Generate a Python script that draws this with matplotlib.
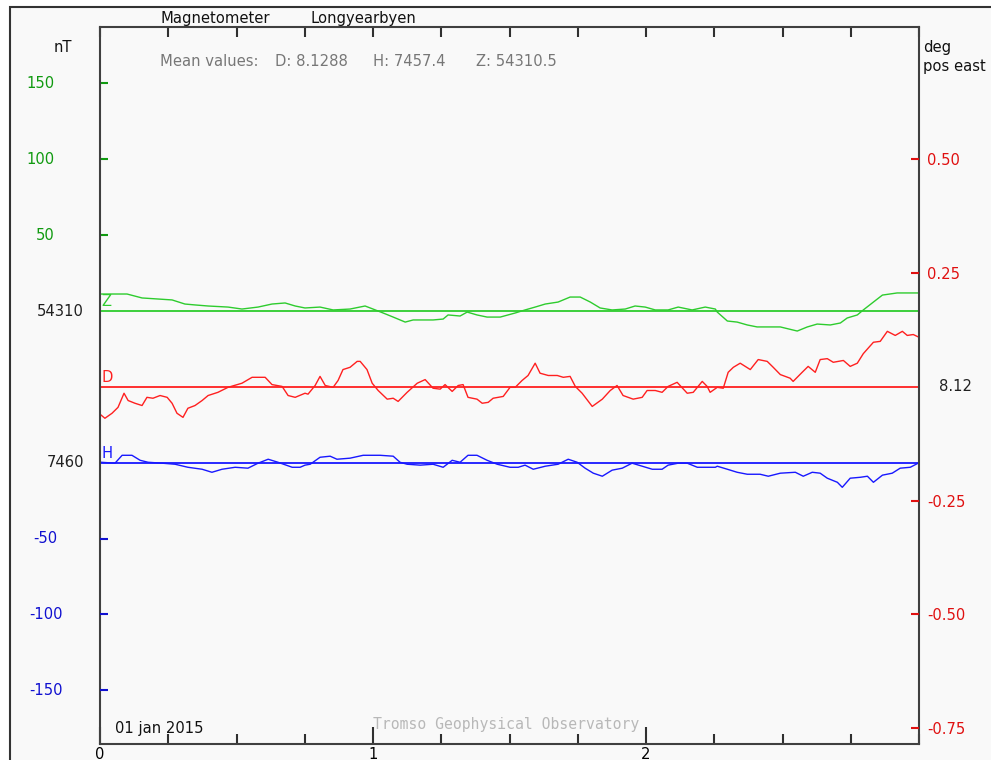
import numpy as np
import matplotlib.pyplot as plt
from matplotlib.patches import Rectangle
from matplotlib.ticker import MultipleLocator, FixedLocator

# time in days from 01 jan 2015 00 UT
z_t = [0.004, 0.099, 0.154, 0.264, 0.311, 0.348, 0.396, 0.469, 0.520, 0.579, 0.630, 0.678,
       0.715, 0.751, 0.806, 0.854, 0.916, 0.971, 1.000, 1.037, 1.074, 1.118, 1.147, 1.220,
       1.257, 1.275, 1.319, 1.345, 1.381, 1.418, 1.466, 1.521, 1.557, 1.594, 1.631, 1.678,
       1.722, 1.759, 1.796, 1.832, 1.876, 1.924, 1.960, 1.997, 2.034, 2.081, 2.118, 2.169,
       2.217, 2.254, 2.261, 2.298, 2.334, 2.371, 2.407, 2.455, 2.492, 2.554, 2.591, 2.627,
       2.675, 2.712, 2.737, 2.774, 2.796, 2.833, 2.866, 2.920, 2.968, 2.997]
z_nt = [54321.2, 54321.2, 54318.6, 54317.3, 54314.6, 54314.0, 54313.3, 54312.6, 54311.3,
        54312.6, 54314.6, 54315.3, 54313.3, 54312.0, 54312.6, 54310.7, 54311.3, 54313.3,
        54311.3, 54308.7, 54306.0, 54302.7, 54304.1, 54304.1, 54304.7, 54307.4, 54306.7,
        54309.3, 54307.4, 54306.0, 54306.0, 54308.7, 54310.7, 54312.6, 54314.6, 54315.9,
        54319.2, 54319.2, 54315.9, 54312.0, 54310.7, 54311.3, 54313.3, 54312.6, 54310.7,
        54310.7, 54312.6, 54310.7, 54312.6, 54311.3, 54309.3, 54303.4, 54302.7, 54300.8,
        54299.5, 54299.5, 54299.5, 54296.8, 54299.5, 54301.4, 54300.8, 54302.1, 54305.4,
        54307.4, 54310.7, 54315.9, 54320.5, 54321.9, 54321.9, 54321.9]

d_t = [0.004, 0.018, 0.044, 0.066, 0.088, 0.103, 0.128, 0.154, 0.172, 0.194, 0.220, 0.246,
       0.264, 0.282, 0.304, 0.322, 0.348, 0.374, 0.396, 0.432, 0.469, 0.520, 0.557, 0.605,
       0.630, 0.667, 0.689, 0.715, 0.751, 0.762, 0.788, 0.806, 0.825, 0.854, 0.872, 0.890,
       0.916, 0.942, 0.953, 0.978, 0.997, 1.019, 1.052, 1.074, 1.092, 1.125, 1.162, 1.191,
       1.220, 1.246, 1.264, 1.290, 1.312, 1.330, 1.348, 1.381, 1.400, 1.422, 1.440, 1.477,
       1.502, 1.521, 1.546, 1.568, 1.594, 1.612, 1.642, 1.675, 1.697, 1.722, 1.741, 1.766,
       1.803, 1.840, 1.869, 1.894, 1.916, 1.953, 1.986, 2.004, 2.034, 2.059, 2.081, 2.114,
       2.151, 2.173, 2.206, 2.224, 2.235, 2.261, 2.283, 2.301, 2.320, 2.345, 2.382, 2.411,
       2.444, 2.466, 2.492, 2.528, 2.539, 2.572, 2.594, 2.620, 2.638, 2.664, 2.686, 2.723,
       2.748, 2.774, 2.796, 2.833, 2.858, 2.884, 2.913, 2.939, 2.957, 2.979, 3.000]
d_deg = [8.058, 8.051, 8.062, 8.075, 8.106, 8.090, 8.084, 8.079, 8.097, 8.095, 8.101, 8.097,
         8.084, 8.062, 8.053, 8.073, 8.079, 8.090, 8.101, 8.108, 8.119, 8.128, 8.141, 8.141,
         8.125, 8.121, 8.101, 8.097, 8.106, 8.104, 8.123, 8.143, 8.123, 8.119, 8.134, 8.158,
         8.163, 8.176, 8.176, 8.158, 8.128, 8.112, 8.093, 8.095, 8.088, 8.108, 8.128, 8.136,
         8.117, 8.115, 8.125, 8.110, 8.123, 8.125, 8.097, 8.093, 8.084, 8.086, 8.095, 8.099,
         8.119, 8.119, 8.134, 8.145, 8.172, 8.150, 8.145, 8.145, 8.141, 8.143, 8.121, 8.106,
         8.077, 8.093, 8.112, 8.123, 8.101, 8.093, 8.097, 8.112, 8.112, 8.108, 8.121, 8.130,
         8.106, 8.108, 8.132, 8.121, 8.108, 8.119, 8.117, 8.152, 8.163, 8.172, 8.158, 8.180,
         8.176, 8.163, 8.147, 8.139, 8.132, 8.152, 8.165, 8.152, 8.180, 8.182, 8.174, 8.178,
         8.165, 8.172, 8.193, 8.218, 8.220, 8.242, 8.233, 8.242, 8.233, 8.235, 8.229]

h_t = [0.004, 0.055, 0.081, 0.117, 0.147, 0.176, 0.227, 0.275, 0.322, 0.374, 0.410, 0.447,
       0.495, 0.542, 0.579, 0.616, 0.652, 0.704, 0.733, 0.751, 0.770, 0.806, 0.843, 0.868,
       0.916, 0.964, 1.026, 1.074, 1.099, 1.125, 1.173, 1.220, 1.257, 1.290, 1.319, 1.348,
       1.381, 1.418, 1.455, 1.502, 1.532, 1.557, 1.587, 1.631, 1.678, 1.715, 1.748, 1.777,
       1.807, 1.840, 1.876, 1.913, 1.949, 1.986, 2.023, 2.059, 2.081, 2.118, 2.151, 2.188,
       2.254, 2.261, 2.298, 2.334, 2.371, 2.418, 2.448, 2.492, 2.547, 2.576, 2.609, 2.638,
       2.664, 2.701, 2.719, 2.748, 2.785, 2.811, 2.833, 2.866, 2.902, 2.931, 2.968, 2.997]
h_nt = [7460.3, 7459.7, 7464.9, 7464.9, 7461.6, 7460.3, 7459.7, 7459.0, 7457.0, 7455.7,
        7453.7, 7455.7, 7457.0, 7456.4, 7459.7, 7462.3, 7460.3, 7457.0, 7457.0, 7458.4,
        7459.0, 7463.6, 7464.3, 7462.3, 7463.0, 7464.9, 7464.9, 7464.3, 7460.3, 7459.0,
        7458.4, 7459.0, 7457.0, 7461.6, 7460.3, 7464.9, 7464.9, 7461.6, 7459.0, 7457.0,
        7457.0, 7458.4, 7455.7, 7457.7, 7459.0, 7462.3, 7460.3, 7456.4, 7453.1, 7451.1,
        7455.1, 7456.4, 7459.7, 7457.7, 7455.7, 7455.7, 7458.4, 7459.7, 7459.7, 7457.0,
        7457.0, 7457.7, 7455.7, 7453.7, 7452.4, 7452.4, 7451.1, 7453.1, 7453.7, 7451.1,
        7453.7, 7453.1, 7449.8, 7447.1, 7443.8, 7449.8, 7450.4, 7451.1, 7447.1, 7451.8,
        7453.1, 7456.4, 7457.0, 7459.7]

z_base = 54310
h_base = 7460
d_base = 8.12
mean_d, mean_h, mean_z = 8.1288, 7457.4, 54310.5

z_ticks = [150, 100, 50]
h_ticks = [-50, -100, -150]
d_ticks = [0.50, 0.25, -0.25, -0.50, -0.75]
x_labels = ['0', '1', '2']

# plot offsets (nT scale on the page)
h_shift = -100
d_shift = -50
d_scale = 300  # nT per degree on the page

green, red, blue = '#2ecc2e', '#ff2020', '#1818ff'
green_lbl, red_lbl, blue_lbl = '#109a10', '#e01010', '#1010d0'
W, H = 991, 760
bg = '#f9f9f9'
font = 'DejaVu Sans'
mono = 'DejaVu Sans Mono'
fs = 10.6

fig = plt.figure(figsize=(W / 100, H / 100), dpi=100, facecolor='white')
fig.patches.append(Rectangle((10 / W, -0.05), 1.1, 1 - 7 / H + 0.05, transform=fig.transFigure,
                             facecolor=bg, edgecolor='#333333', linewidth=1.5, zorder=-10))

def px(x, y):
    return x / W, 1 - y / H

ax = fig.add_axes([100 / W, 1 - 744 / H, 819 / W, 717 / H])
ax.set_facecolor('none')
ax.set_xlim(0, 3)
ax.set_ylim(-285.4, 187.2)
for s in ax.spines.values():
    s.set_color('#404040')
    s.set_linewidth(1.5)

# baselines
ax.axhline(0, color=green, lw=1.3)
ax.axhline(d_shift, color=red, lw=1.3)
ax.axhline(h_shift, color=blue, lw=1.3)

# traces
ax.plot(z_t, np.array(z_nt) - z_base, color=green, lw=1.0)
ax.plot(d_t, (np.array(d_deg) - d_base) * d_scale + d_shift, color=red, lw=1.0)
ax.plot(h_t, np.array(h_nt) - h_base + h_shift, color=blue, lw=1.0)

# x ticks
ax.xaxis.set_major_locator(FixedLocator([0, 1, 2]))
ax.xaxis.set_minor_locator(MultipleLocator(0.25))
ax.set_xticklabels(x_labels, fontsize=fs, family=font)
ax.tick_params(axis='x', which='major', direction='in', length=12, width=1.5,
               color='#303030', pad=2, bottom=True, top=False)
ax.tick_params(axis='x', which='minor', direction='in', length=7.5, width=1.5,
               color='#303030', bottom=True, top=False)
top = ax.secondary_xaxis('top')
top.xaxis.set_major_locator(MultipleLocator(0.25))
top.tick_params(direction='in', length=7.5, width=1.5, color='#303030', labeltop=False)
top.spines['top'].set_visible(False)

# left y ticks: Z (green) on the main axes, H (blue) on a twin
ax.set_yticks(z_ticks)
ax.set_yticklabels([])
ax.tick_params(axis='y', direction='in', length=6, width=1.5, color=green_lbl,
               left=True, right=False)

ax3 = ax.twinx()
ax3.set_ylim(ax.get_ylim())
ax3.set_facecolor('none')
for s in ax3.spines.values():
    s.set_visible(False)
ax3.yaxis.tick_left()
ax3.set_yticks([v + h_shift for v in h_ticks])
ax3.set_yticklabels([])
ax3.tick_params(axis='y', direction='in', length=6, width=1.5, color=blue_lbl,
                left=True, right=False)

ytr = ax.get_yaxis_transform()
for v in z_ticks:
    ax.text((55 - 100) / 819, v, str(v), transform=ytr, ha='right', va='center',
            color=green_lbl, fontsize=fs, family=font)
for v in h_ticks:
    xr = 57 if v == -50 else 63
    ax.text((xr - 100) / 819, v + h_shift, str(v), transform=ytr,
            ha='right', va='center', color=blue_lbl, fontsize=fs, family=font)
ax.text((84 - 100) / 819, 0, str(z_base), transform=ytr, ha='right', va='center',
        color='#202020', fontsize=fs, family=font)
ax.text((84 - 100) / 819, h_shift, str(h_base), transform=ytr, ha='right', va='center',
        color='#202020', fontsize=fs, family=font)

# right y ticks (D)
ax2 = ax.twinx()
ax2.set_ylim(ax.get_ylim())
ax2.set_facecolor('none')
for s in ax2.spines.values():
    s.set_visible(False)
ax2.set_yticks([v * d_scale + d_shift for v in d_ticks])
ax2.set_yticklabels(['%.2f' % v for v in d_ticks], fontsize=fs, family=font, color=red_lbl)
ax2.tick_params(axis='y', direction='in', length=6, width=1.5, color=red_lbl, pad=6)
ax.text((939 - 100) / 819, d_shift, '%.2f' % d_base, transform=ytr, ha='left', va='center',
        color='#202020', fontsize=fs, family=font)

# trace letters
ax.text(0.006, 1, 'Z', color=green, fontsize=fs, family=font, va='bottom')
ax.text(0.006, d_shift + 1, 'D', color=red, fontsize=fs, family=font, va='bottom')
ax.text(0.006, h_shift + 1, 'H', color=blue, fontsize=fs, family=font, va='bottom')

# header / footer text
fig.text(*px(160, 23), 'Magnetometer', fontsize=fs, family=font, color='#111111')
fig.text(*px(311, 23), 'Longyearbyen', fontsize=fs, family=font, color='#111111')
fig.text(*px(160, 66), 'Mean values:', fontsize=fs, family=font, color='#777777')
fig.text(*px(275, 66), 'D: %.4f' % mean_d, fontsize=fs, family=font, color='#777777')
fig.text(*px(373, 66), 'H: %.1f' % mean_h, fontsize=fs, family=font, color='#777777')
fig.text(*px(476, 66), 'Z: %.1f' % mean_z, fontsize=fs, family=font, color='#777777')
fig.text(*px(54, 52), 'nT', fontsize=fs, family=font, color='#111111')
fig.text(*px(923, 52), 'deg', fontsize=fs, family=font, color='#111111')
fig.text(*px(923, 71), 'pos east', fontsize=fs, family=font, color='#111111')
fig.text(*px(115, 733), '01 jan 2015', fontsize=fs, family=font, color='#111111')
fig.text(*px(373, 729), 'Tromso Geophysical Observatory', fontsize=fs, family=mono,
         color='#b8b8b8')

fig.savefig('out.png', dpi=100, facecolor='white')
